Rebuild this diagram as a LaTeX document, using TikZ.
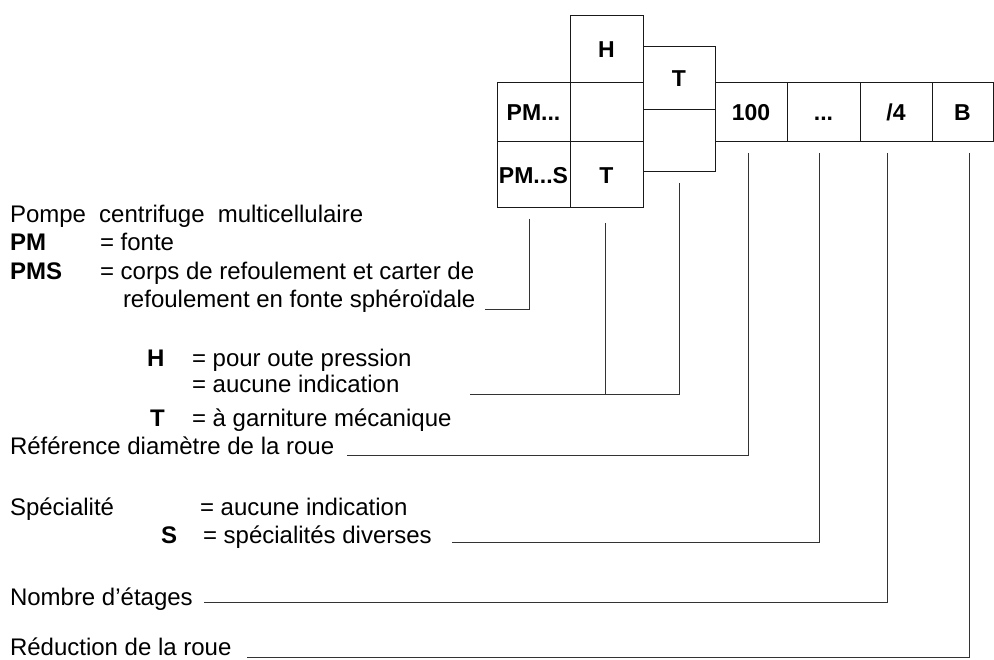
\documentclass[tikz,border=0pt]{standalone}
\usepackage{fontspec}
\setmainfont{Liberation Sans}
\begin{document}
\begin{tikzpicture}[x=1pt,y=-1pt,
  cell/.style={draw=black!90,line width=0.9pt,rectangle,inner sep=0pt,outer sep=0pt,
    font=\fontsize{23}{27}\selectfont\bfseries,text height=19pt,text depth=0pt},
  lbl/.style={anchor=base west,inner sep=0pt,outer sep=0pt,font=\fontsize{24}{28}\selectfont},
  blbl/.style={lbl,font=\fontsize{24}{28}\selectfont\bfseries},
  lead/.style={draw=black!80,line width=0.9pt}]
\useasboundingbox (0,0) rectangle (994,660);
% boxes
\node[cell,minimum width=73pt,minimum height=59pt] (pm)  at (533.5,111.5) {PM...};
\node[cell,minimum width=73pt,minimum height=66pt] (pms) at (533.5,174) {PM...S};
\node[cell,minimum width=73pt,minimum height=67pt] (hh)  at (606.5,48.5) {H};
\node[cell,minimum width=73pt,minimum height=59pt] (he)  at (606.5,111.5) {};
\node[cell,minimum width=73pt,minimum height=66pt] (tm)  at (606.5,174) {T};
\node[cell,minimum width=72pt,minimum height=63pt] (tt)  at (679,77.5) {T};
\node[cell,minimum width=72pt,minimum height=62pt] (te)  at (679,140) {};
\node[cell,minimum width=72pt,minimum height=59pt] (c100) at (751,111.5) {100};
\node[cell,minimum width=73pt,minimum height=59pt] (cdots) at (823.5,111.5) {...};
\node[cell,minimum width=72pt,minimum height=59pt] (cfour) at (896,111.5) {/4};
\node[cell,minimum width=61pt,minimum height=59pt] (cb) at (962.5,111.5) {B};
% texts
\node[lbl]  (pompe) at (10,223) {Pompe\hspace{0.55em}centrifuge\hspace{0.55em}multicellulaire};
\node[blbl] (kpm)   at (10,251) {PM};
\node[lbl]  (fonte) at (100,251) {= fonte};
\node[blbl] (kpms)  at (10,280) {PMS};
\node[lbl]  (corps) at (100,280) {= corps de refoulement et carter de};
\node[lbl]  (refo)  at (123,308) {refoulement en fonte sphéroïdale};
\node[blbl] (kh)    at (147,367) {H};
\node[lbl]  (press) at (192,367) {= pour oute pression};
\node[lbl]  (auc1)  at (192,393) {= aucune indication};
\node[blbl] (kt)    at (150,426) {T};
\node[lbl]  (garn)  at (192,426) {= à garniture mécanique};
\node[lbl]  (ref)   at (10,454) {Référence diamètre de la roue};
\node[lbl]  (spec)  at (10,515) {Spécialité};
\node[lbl]  (auc2)  at (200,515) {= aucune indication};
\node[blbl] (ks)    at (161,543) {S};
\node[lbl]  (div)   at (203,543) {= spécialités diverses};
\node[lbl]  (nomb)  at (10,605) {Nombre d’étages};
\node[lbl]  (reduc) at (10,655) {Réduction de la roue};
% leader end points
\coordinate (p1) at (529,219);  \coordinate (q1) at (485,309);
\coordinate (p2) at (605,223);  \coordinate (r2) at (605,394);
\coordinate (p3) at (679,183);  \coordinate (q3) at (470,394);
\coordinate (p4) at (748,153);  \coordinate (q4) at (347,455);
\coordinate (p5) at (819,153);  \coordinate (q5) at (452,542);
\coordinate (p6) at (887,153);  \coordinate (q6) at (204,602);
\coordinate (p7) at (969,153);  \coordinate (q7) at (247,657);
\draw[lead] (p1) |- (q1);
\draw[lead] (p2) -- (r2);
\draw[lead] (p3) |- (q3);
\draw[lead] (p4) |- (q4);
\draw[lead] (p5) |- (q5);
\draw[lead] (p6) |- (q6);
\draw[lead] (p7) |- (q7);
\end{tikzpicture}
\end{document}
